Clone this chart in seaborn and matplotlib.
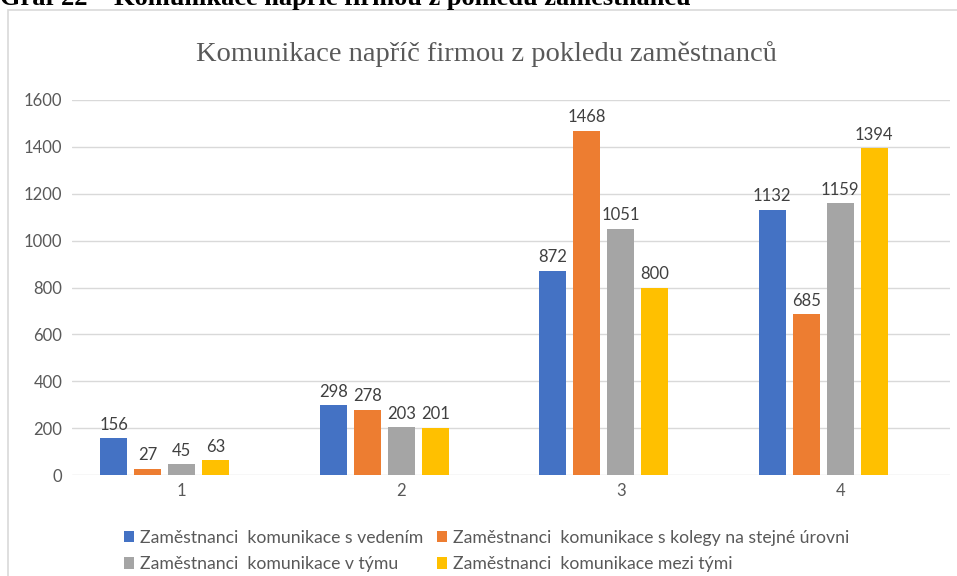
import pandas as pd
import matplotlib
matplotlib.use("Agg")
import matplotlib.pyplot as plt
from matplotlib.patches import Patch, Rectangle
import seaborn as sns

# Values
categories = ["1", "2", "3", "4"]
series_names = [
    "Zaměstnanci  komunikace s vedením",
    "Zaměstnanci  komunikace s kolegy na stejné úrovni",
    "Zaměstnanci  komunikace v týmu",
    "Zaměstnanci  komunikace mezi tými",
]
s_vedenim = [156, 298, 872, 1132]
s_kolegy = [27, 278, 1468, 685]
v_tymu = [45, 203, 1051, 1159]
mezi_tymi = [63, 201, 800, 1394]
yticks = [0, 200, 400, 600, 800, 1000, 1200, 1400, 1600]

colors = ["#4472C4", "#ED7D31", "#A5A5A5", "#FFC000"]

rows = []
for name, vals in zip(series_names, [s_vedenim, s_kolegy, v_tymu, mezi_tymi]):
    for cat, v in zip(categories, vals):
        rows.append({"cat": cat, "series": name, "value": v})
df = pd.DataFrame(rows)

sns.set_theme(style="white")
plt.rcParams["font.family"] = ["Lato", "DejaVu Sans"]

fig = plt.figure(figsize=(9.57, 5.76), dpi=100)
ax = fig.add_axes([72 / 957, 101 / 576, 878 / 957, 375 / 576])

sns.barplot(data=df, x="cat", y="value", hue="series", order=categories,
            hue_order=series_names, palette=colors, saturation=1,
            width=0.62, gap=0.2, linewidth=0, legend=False, ax=ax)

for cont in ax.containers:
    ax.bar_label(cont, padding=4, fontsize=12, color="#404040")

# Excel leaves room for an empty fifth slot, so labels sit right of bar group
shift = 0.0775
ax.set_xticks([i + shift for i in range(len(categories))])
ax.set_xticklabels(categories)
ax.set_xlim(-0.5 + shift, len(categories) - 0.5 + shift)
ax.set_ylim(0, 1600)
ax.set_yticks(yticks)
ax.tick_params(axis="both", length=0, labelsize=12, labelcolor="#595959")
ax.tick_params(axis="y", pad=7)
ax.tick_params(axis="x", pad=6)
ax.set_xlabel("")
ax.set_ylabel("")
ax.grid(axis="y", color="#D9D9D9", linewidth=1)
ax.set_axisbelow(True)
for sp in ax.spines.values():
    sp.set_visible(False)

# chart frame
fig.patches.append(Rectangle((8 / 957, -0.1), 1.2, 1.1 - 10 / 576,
                             transform=fig.transFigure, fill=False,
                             edgecolor="#D9D9D9", linewidth=1.2))

fig.text(0.508, 1 - 54 / 576, "Komunikace napříč firmou z pokledu zaměstnanců",
         ha="center", va="center", fontsize=20.5, color="#595959",
         family=["Liberation Serif", "DejaVu Serif"])

# caption cut off at top of the page crop
fig.text(0.0, 1 - 5 / 576, "Graf 22 – Komunikace napříč firmou z pohledu zaměstnanců",
         ha="left", va="baseline", fontsize=19, fontweight="bold", color="black",
         family=["Liberation Serif", "DejaVu Serif"])

handles = [Patch(facecolor=c, edgecolor="none") for c in colors]
order = [0, 2, 1, 3]
fig.legend([handles[i] for i in order], [series_names[i] for i in order],
           ncol=2, loc="center left", bbox_to_anchor=(108 / 957, 1 - 551 / 576),
           frameon=False, fontsize=12.7, labelcolor="#595959",
           handlelength=0.55, handleheight=0.6, handletextpad=0.35,
           columnspacing=0.8, labelspacing=0.6)

fig.savefig("out.png", dpi=100)
